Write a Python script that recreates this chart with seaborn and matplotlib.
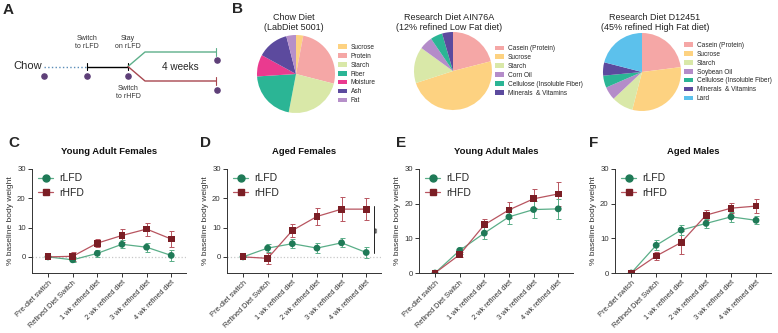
import numpy as np
import matplotlib.pyplot as plt
from matplotlib.lines import Line2D
import pandas as pd
import seaborn as sns

sns.set_style("ticks")
plt.rcParams['font.family'] = ['Liberation Sans', 'DejaVu Sans']

# ---- data ----
timepoints = ["Pre-diet switch", "Refined Diet Switch", "1 wk refined diet",
              "2 wk refined diet", "3 wk refined diet", "4 wk refined diet"]

# C young adult females
yaf_lfd = [0, -1.0, 1.2, 4.3, 3.3, 0.5]
yaf_lfd_err = [0, 0.8, 1.2, 1.3, 1.5, 2.0]
yaf_hfd = [0, 0.2, 4.7, 7.3, 9.5, 6.1]
yaf_hfd_err = [0, 1.5, 1.3, 2.2, 2.2, 2.7]

# D aged females
af_lfd = [0, 3.0, 4.5, 3.0, 4.8, 1.5]
af_lfd_err = [0, 1.5, 1.5, 1.8, 1.5, 2.0]
af_hfd = [0, -0.5, 9.0, 13.8, 16.3, 16.3]
af_hfd_err = [0, 1.8, 2.2, 2.8, 4.0, 3.8]

# E young adult males
yam_lfd = [0, 6.5, 11.5, 16.2, 18.3, 18.5]
yam_lfd_err = [0, 1.0, 1.8, 2.2, 2.5, 2.8]
yam_hfd = [0, 5.3, 13.9, 18.2, 21.4, 22.8]
yam_hfd_err = [0, 0.8, 1.8, 2.2, 2.7, 3.4]

# F aged males
am_lfd = [0, 8.0, 12.4, 14.3, 16.2, 15.2]
am_lfd_err = [0, 1.5, 1.5, 1.3, 1.5, 1.2]
am_hfd = [0, 4.9, 8.8, 16.7, 18.7, 19.3]
am_hfd_err = [0, 1.2, 3.2, 1.5, 1.4, 2.0]

# B pies
chow_labels = ["Sucrose", "Protein", "Starch", "Fiber", "Moisture", "Ash", "Fat"]
chow_vals = [3, 26, 24, 21, 9, 13, 4]
lfd_labels = ["Casein (Protein)", "Sucrose", "Starch", "Corn Oil",
              "Cellulose (Insoluble Fiber)", "Minerals  & Vitamins"]
lfd_vals = [21, 49, 15, 5.5, 5, 4.5]
hfd_labels = ["Casein (Protein)", "Sucrose", "Starch", "Soybean Oil",
              "Cellulose (Insoluble Fiber)", "Minerals  & Vitamins", "Lard"]
hfd_vals = [23, 31, 9, 5.5, 5, 5.5, 21]

c_suc, c_prot, c_star = '#FDD281', '#F5A7A6', '#D9E8A8'
c_fib, c_moist, c_ash = '#2BB595', '#EA3A8F', '#5C4A9E'
c_fat, c_oil, c_lard = '#B690C9', '#B48CC9', '#5CC1EC'
chow_cols = [c_suc, c_prot, c_star, c_fib, c_moist, c_ash, c_fat]
lfd_cols = [c_prot, c_suc, c_star, c_oil, c_fib, c_ash]
hfd_cols = [c_prot, c_suc, c_star, c_oil, c_fib, c_ash, c_lard]

line_pal = {'rLFD': '#5AAE88', 'rHFD': '#B85560'}
mark_pal = {'rLFD': '#1F7A57', 'rHFD': '#7B1E25'}
ink = '#333333'

W, H = 778, 333
fig = plt.figure(figsize=(W / 100, H / 100), dpi=100)


def box(l, t, w, h):
    return [l / W, 1 - (t + h) / H, w / W, h / H]


# ---- panel A: schematic ----
axA = fig.add_axes(box(0, 0, 230, 130))
axA.set_xlim(0, 230)
axA.set_ylim(130, 0)
axA.axis('off')
axA.text(3, 10, 'A', fontsize=11, fontweight='bold', va='center')
axA.text(13, 66, 'Chow', fontsize=8, va='center')
axA.plot([44, 87], [66.5, 66.5], ls=':', color='#5B8DB8', lw=1)
axA.plot([87, 128], [66.5, 66.5], color='k', lw=1)
for xx in (87, 128):
    axA.plot([xx, xx], [63, 70], color='k', lw=0.8)
axA.plot([128, 145, 216], [66.5, 52, 52], color='#5DAF8A', lw=1)
axA.plot([128, 145, 216], [66.5, 81, 81], color='#A8474F', lw=1)
axA.plot([216, 216], [48, 56], color='#5DAF8A', lw=0.8)
axA.plot([216, 216], [77, 85], color='#A8474F', lw=0.8)
axA.text(180, 66.5, '4 weeks', fontsize=7.2, ha='center', va='center')
axA.scatter([44, 87, 128, 217, 217], [76, 76, 76, 60, 90], s=14, color='#5E3F78', zorder=3)
axA.text(87, 42, 'Switch\nto rLFD', fontsize=5, ha='center', va='center', color='#333333')
axA.text(128, 42, 'Stay\non rLFD', fontsize=5, ha='center', va='center', color='#333333')
axA.text(128, 92, 'Switch\nto rHFD', fontsize=5, ha='center', va='center', color='#333333')

# ---- panel B: pies ----
fig.text(232 / W, 1 - 9 / H, 'B', fontsize=11, fontweight='bold', va='center')
pies = [
    ((257, 35), chow_vals, chow_labels, chow_cols, 'Chow Diet\n(LabDiet 5001)', 294),
    ((414, 32), lfd_vals, lfd_labels, lfd_cols, 'Research Diet AIN76A\n(12% refined Low Fat diet)', 449),
    ((603, 33), hfd_vals, hfd_labels, hfd_cols, 'Research Diet D12451\n(45% refined High Fat diet)', 655),
]
for (l, t), vals, labs, cols, title, tx in pies:
    ax = fig.add_axes(box(l, t, 78, 78))
    wedges, _ = ax.pie(vals, colors=cols, startangle=90, counterclock=False,
                       wedgeprops=dict(linewidth=0))
    ax.set_xlim(-1, 1)
    ax.set_ylim(-1, 1)
    ax.set_aspect('equal')
    ax.legend(wedges, labs, loc='center left', bbox_to_anchor=(1.0, 0.5), frameon=False,
              fontsize=4.7, handlelength=1.3, handleheight=0.7, labelspacing=0.3,
              handletextpad=0.6, borderaxespad=0.3, borderpad=0.2)
    fig.text(tx / W, 1 - 22.5 / H, title, fontsize=6.5, ha='center', va='center',
             linespacing=1.0, color='#222222')

# ---- panels C-F: body weight ----
panels = [
    ('C', 'Young Adult Females', (32, 169, 154, 104), yaf_lfd, yaf_lfd_err, yaf_hfd, yaf_hfd_err, -5.5, 8),
    ('D', 'Aged Females', (227, 169, 154, 104), af_lfd, af_lfd_err, af_hfd, af_hfd_err, -5.5, 200),
    ('E', 'Young Adult Males', (419, 169, 154, 104), yam_lfd, yam_lfd_err, yam_hfd, yam_hfd_err, 0, 396),
    ('F', 'Aged Males', (615, 169, 156, 104), am_lfd, am_lfd_err, am_hfd, am_hfd_err, 0, 589),
]
x_idx = np.arange(len(timepoints))
for letter, title, pos, lfd, lfd_e, hfd, hfd_e, ymin, lx in panels:
    ax = fig.add_axes(box(*pos))
    df = pd.DataFrame({
        't': np.concatenate([x_idx, x_idx]),
        'val': lfd + hfd,
        'err': lfd_e + hfd_e,
        'diet': ['rLFD'] * len(x_idx) + ['rHFD'] * len(x_idx),
    })
    if ymin < 0:
        ax.axhline(0, color='#c8c8c8', ls=':', lw=0.9, zorder=0)
    sns.lineplot(data=df, x='t', y='val', hue='diet', palette=line_pal, ax=ax,
                 legend=False, lw=0.9, zorder=2)
    for diet, g in df.groupby('diet'):
        ax.errorbar(g['t'], g['val'], yerr=g['err'], fmt='none', ecolor=line_pal[diet],
                    elinewidth=0.7, capsize=1.8, capthick=0.7, zorder=2)
    sns.scatterplot(data=df, x='t', y='val', hue='diet', style='diet',
                    markers={'rLFD': 'o', 'rHFD': 's'}, palette=mark_pal, s=24,
                    linewidth=0, ax=ax, legend=False, zorder=3)
    ax.set_xlim(-0.65, 5.6)
    ax.set_ylim(ymin, 30)
    ax.set_yticks([0, 10, 20, 30])
    ax.set_xticks(x_idx)
    ax.set_xticklabels(timepoints, rotation=45, ha='right', rotation_mode='anchor',
                       fontsize=5.3, color=ink)
    ax.tick_params(axis='y', labelsize=5.6, colors=ink, length=3, width=0.7, pad=1.5)
    ax.tick_params(axis='x', length=3, width=0.7, pad=1.5, colors=ink)
    ax.set_xlabel('')
    ax.set_ylabel('% baseline body weight', fontsize=6, color=ink, labelpad=2)
    ax.set_title(title, fontsize=6.8, fontweight='bold', pad=11, color='#111111')
    for sp in ('top', 'right'):
        ax.spines[sp].set_visible(False)
    for sp in ('left', 'bottom'):
        ax.spines[sp].set_color(ink)
        ax.spines[sp].set_linewidth(0.7)
    handles = [Line2D([], [], color=line_pal[d], lw=0.9, marker=m,
                      markerfacecolor=mark_pal[d], markeredgecolor=mark_pal[d], markersize=5)
               for d, m in (('rLFD', 'o'), ('rHFD', 's'))]
    ax.legend(handles, ['rLFD', 'rHFD'], loc='upper left', bbox_to_anchor=(0.0, 1.02),
              frameon=False, fontsize=7.5, handlelength=1.4, handletextpad=0.6,
              labelspacing=0.45, borderaxespad=0.2)
    fig.text(lx / W, 1 - 143 / H, letter, fontsize=11, fontweight='bold', va='center')
    if letter == 'D':
        # significance bar between the two diets at the final week
        y_lo = lfd[-1] - 0.2
        y_hi = hfd[-1] + hfd_e[-1] * 0.3
        ax.plot([5.3, 5.3], [y_lo, y_hi], color='#222222', lw=0.7, clip_on=False)
        ax.text(5.47, (y_lo + y_hi) / 2, '**', rotation=90, fontsize=6.5,
                ha='center', va='center')

fig.savefig('out.png', dpi=100)
